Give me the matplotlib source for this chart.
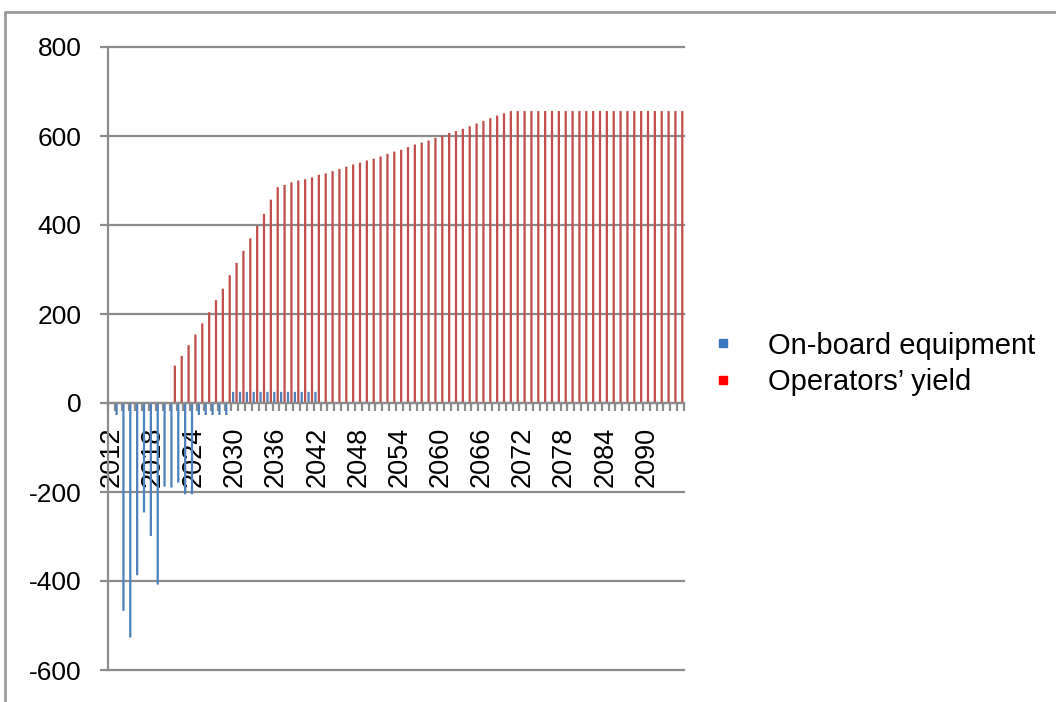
import matplotlib
matplotlib.use('Agg')
import matplotlib.pyplot as plt
from matplotlib.lines import Line2D
import numpy as np

# ---------------- data ----------------
years = list(range(2012, 2096))
equipment = ([0, -27, -467, -527, -387, -246, -299, -408, -188, -190, -179, -205, -205,
              -27, -27, -27, -27, -27]
             + [25] * 13
             + [0] * 53)
operators = ([0] * 9
             + [84, 106, 130, 154, 179, 204, 231, 257, 287, 315, 342, 370, 398, 425, 457,
                485, 490, 496, 500, 503, 507, 513, 516]
             + [521, 526, 531, 536, 540, 545, 549, 554, 560, 565, 569, 575, 581, 585, 590,
                596, 601, 607, 611, 616, 622, 628, 634, 640, 646, 651, 656]
             + [656] * 25)
series_names = ["On-board equipment", "Operators\u2019 yield"]
tick_labels = [str(y) for y in years[::6]]

# ---------------- style ----------------
plt.rcParams['font.family'] = ['Liberation Sans', 'DejaVu Sans']
plt.rcParams['axes.unicode_minus'] = False
grey = '#8c8c8c'
bar_blue = '#4F81BD'
bar_red = '#C0504D'

W, H = 1056, 702
fig = plt.figure(figsize=(W / 100, H / 100), dpi=100)
ax = fig.add_axes([108 / W, 1 - 670 / H, (684 - 108) / W, (670 - 47) / H])

x = np.arange(len(years))
b1 = ax.bar(x - 0.25, equipment, width=0.33, color=bar_blue, linewidth=0, zorder=2)
b2 = ax.bar(x + 0.25, operators, width=0.33, color=bar_red, linewidth=0, zorder=2)
for p in list(b1) + list(b2):
    p.set_snap(False)

ax.set_xlim(-0.5, len(years) - 0.5)
ax.set_ylim(-600, 800)
ax.set_yticks(range(-600, 801, 200))
ax.yaxis.grid(True, color=grey, linewidth=1.6, clip_on=False)
ax.set_axisbelow(True)

for s in ['top', 'right']:
    ax.spines[s].set_visible(False)
ax.spines['bottom'].set_position(('data', 0))
for s in ['left', 'bottom']:
    ax.spines[s].set_color(grey)
    ax.spines[s].set_linewidth(1.6)
    ax.spines[s].set_zorder(3)

ax.set_xticks(x[::6])
ax.set_xticklabels(tick_labels, rotation=90, fontsize=19.5)
ax.set_xticks(np.arange(-0.5, len(years), 1), minor=True)
ax.tick_params(axis='x', which='major', length=0, pad=17)
ax.tick_params(axis='x', which='minor', length=5.5, width=1.6, color=grey, direction='out')
ax.tick_params(axis='y', which='major', length=5.5, width=1.6, color=grey,
               direction='out', pad=13.5, labelsize=19)

# legend
handles = [Line2D([], [], marker='s', linestyle='none', color='#3A76C2', markersize=5.5),
           Line2D([], [], marker='s', linestyle='none', color='#FF0000', markersize=5.5)]
fig.legend(handles, series_names, loc='center left',
           bbox_to_anchor=(714 / W, 1 - 364 / H), frameon=False, fontsize=21,
           handlelength=0.6, handletextpad=1.25, labelspacing=0.3,
           borderpad=0, borderaxespad=0)

# outer chart-area border (top and left edges visible)
fig.add_artist(Line2D([5 / W, 5 / W, 1], [0, 1 - 12 / H, 1 - 12 / H],
                      transform=fig.transFigure, color='#9a9a9a', linewidth=2))

fig.savefig('out.png', dpi=100)
